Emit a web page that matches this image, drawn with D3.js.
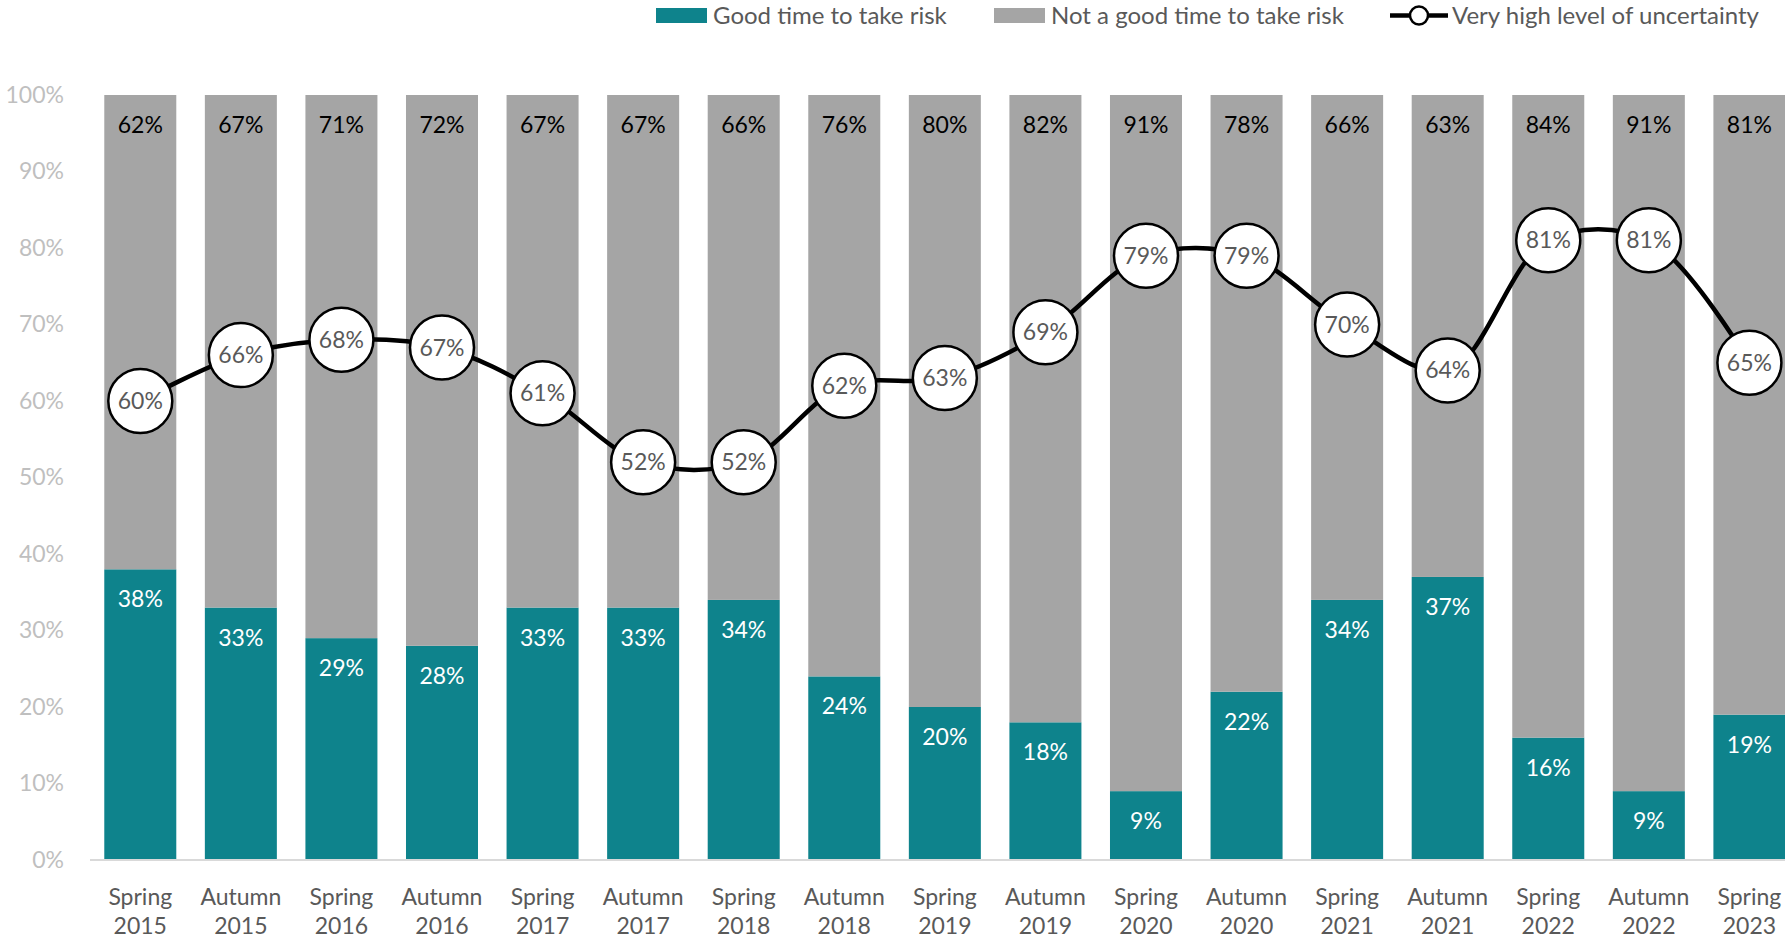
<!DOCTYPE html>
<html>
<head>
<meta charset="utf-8">
<script src="https://cdn.jsdelivr.net/npm/d3@7"></script>
<style>
  html, body { margin: 0; padding: 0; background: #fff; overflow: hidden; }
  svg { display: block; font-family: Lato, "Open Sans", sans-serif; }
</style>
</head>
<body>
<svg id="chart" width="1785" height="940"></svg>
<script>
const categories = ["Spring 2015","Autumn 2015","Spring 2016","Autumn 2016","Spring 2017","Autumn 2017","Spring 2018","Autumn 2018","Spring 2019","Autumn 2019","Spring 2020","Autumn 2020","Spring 2021","Autumn 2021","Spring 2022","Autumn 2022","Spring 2023"];
const goodTime = [38,33,29,28,33,33,34,24,20,18,9,22,34,37,16,9,19];
const notGoodTime = [62,67,71,72,67,67,66,76,80,82,91,78,66,63,84,91,81];
const uncertainty = [60,66,68,67,61,52,52,62,63,69,79,79,70,64,81,81,65];
const yTicks = [0,10,20,30,40,50,60,70,80,90,100];
const seriesNames = ["Good time to take risk","Not a good time to take risk","Very high level of uncertainty"];

const svg = d3.select("#chart");
const plotLeft = 90, step = 100.57;
const x = d3.scaleBand().domain(categories)
  .range([plotLeft, plotLeft + step * categories.length])
  .paddingInner(0.284).paddingOuter(0.142);
const y = d3.scaleLinear().domain([0, 100]).range([860, 95]);

const teal = "#0e838c", grey = "#a5a5a5", textGrey = "#595959";

// y axis labels
const yAxis = d3.axisLeft(y).tickValues(yTicks).tickFormat(d => d + "%").tickSize(0).tickPadding(0);
const ya = svg.append("g").attr("transform", "translate(64,0)").call(yAxis);
ya.select(".domain").remove();
ya.selectAll("text").attr("fill", "#bfbfbf").style("font-size", "23px").style("font-family", "Lato, sans-serif");

// bars
const data = categories.map((c, i) => ({c, g: goodTime[i], n: notGoodTime[i], u: uncertainty[i]}));
svg.append("g").selectAll("rect.g").data(data).join("rect")
  .attr("x", d => x(d.c)).attr("width", x.bandwidth())
  .attr("y", d => y(d.g)).attr("height", d => y(0) - y(d.g)).attr("fill", teal);
svg.append("g").selectAll("rect.n").data(data).join("rect")
  .attr("x", d => x(d.c)).attr("width", x.bandwidth())
  .attr("y", d => y(d.g + d.n)).attr("height", d => y(d.g) - y(d.g + d.n)).attr("fill", grey);

// x axis line
svg.append("line").attr("x1", plotLeft).attr("x2", 1785).attr("y1", y(0)).attr("y2", y(0))
  .attr("stroke", "#d9d9d9").attr("stroke-width", 2);

// bar labels
svg.append("g").selectAll("text").data(data).join("text")
  .attr("x", d => x(d.c) + x.bandwidth() / 2).attr("y", d => y(d.g) + 38)
  .attr("text-anchor", "middle").attr("fill", "#fff").style("font-size", "23px")
  .text(d => d.g + "%");
svg.append("g").selectAll("text").data(data).join("text")
  .attr("x", d => x(d.c) + x.bandwidth() / 2).attr("y", d => y(d.g + d.n) + 38)
  .attr("text-anchor", "middle").attr("fill", "#000").style("font-size", "23px")
  .text(d => d.n + "%");

// x labels
const xl = svg.append("g").selectAll("text").data(data).join("text")
  .attr("text-anchor", "middle").attr("fill", textGrey).style("font-size", "23px");
xl.append("tspan").attr("x", d => x(d.c) + x.bandwidth() / 2).attr("y", 905).text(d => d.c.split(" ")[0]);
xl.append("tspan").attr("x", d => x(d.c) + x.bandwidth() / 2).attr("y", 934).text(d => d.c.split(" ")[1]);

// uncertainty line
const line = d3.line().x(d => x(d.c) + x.bandwidth() / 2).y(d => y(d.u)).curve(d3.curveCatmullRom.alpha(0.5));
svg.append("path").datum(data).attr("d", line).attr("fill", "none").attr("stroke", "#000").attr("stroke-width", 4.5);
const pts = svg.append("g").selectAll("g").data(data).join("g")
  .attr("transform", d => `translate(${x(d.c) + x.bandwidth() / 2},${y(d.u)})`);
pts.append("circle").attr("r", 32).attr("fill", "#fff").attr("stroke", "#000").attr("stroke-width", 2.5);
pts.append("text").attr("text-anchor", "middle").attr("dy", "0.35em").attr("fill", textGrey)
  .style("font-size", "23px").text(d => d.u + "%");

// legend
const lg = svg.append("g");
lg.append("rect").attr("x", 656).attr("y", 8).attr("width", 51).attr("height", 15).attr("fill", teal);
lg.append("text").attr("x", 713).attr("y", 24).attr("fill", textGrey).style("font-size", "24px").text(seriesNames[0]);
lg.append("rect").attr("x", 994).attr("y", 8).attr("width", 51).attr("height", 15).attr("fill", grey);
lg.append("text").attr("x", 1051).attr("y", 24).attr("fill", textGrey).style("font-size", "24px").text(seriesNames[1]);
lg.append("line").attr("x1", 1390).attr("x2", 1448).attr("y1", 15.5).attr("y2", 15.5).attr("stroke", "#000").attr("stroke-width", 4.5);
lg.append("circle").attr("cx", 1419).attr("cy", 15.5).attr("r", 9).attr("fill", "#fff").attr("stroke", "#000").attr("stroke-width", 2.5);
lg.append("text").attr("x", 1452).attr("y", 24).attr("fill", textGrey).style("font-size", "24px").text(seriesNames[2]);
</script>
</body>
</html>
